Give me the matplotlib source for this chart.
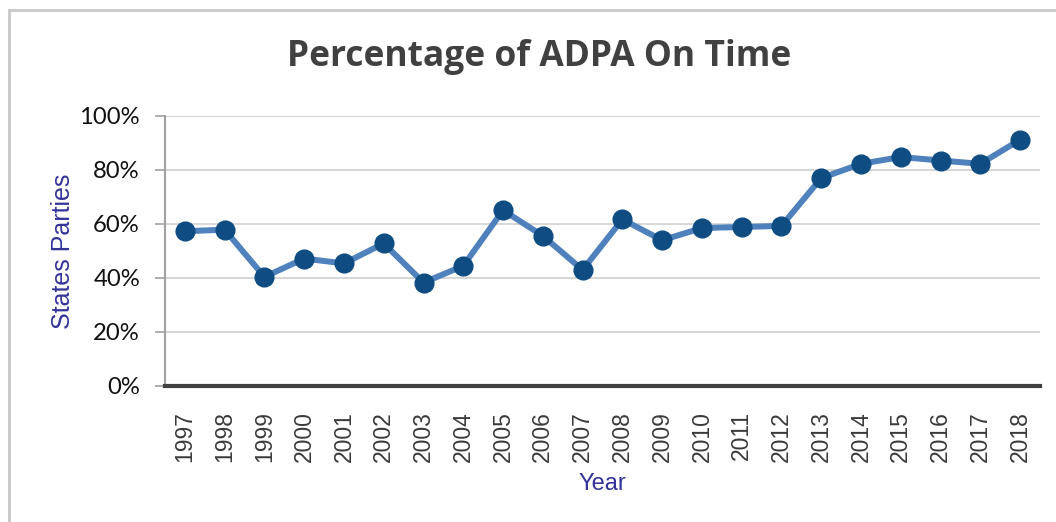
import numpy as np
import matplotlib.pyplot as plt
from matplotlib.lines import Line2D
from matplotlib.ticker import PercentFormatter

# Data
years = ['1997', '1998', '1999', '2000', '2001', '2002', '2003', '2004', '2005', '2006', '2007',
         '2008', '2009', '2010', '2011', '2012', '2013', '2014', '2015', '2016', '2017', '2018']
on_time = [57.3, 57.9, 40.4, 47.2, 45.4, 52.8, 38.3, 44.5, 65.1, 55.6, 43.0,
           61.7, 54.0, 58.5, 58.9, 59.3, 77.0, 82.3, 84.8, 83.5, 82.3, 91.2]

title = 'Percentage of ADPA On Time'
x_label = 'Year'
y_label = 'States Parties'

fig = plt.figure(figsize=(10.56, 5.22), dpi=100)
ax = fig.add_axes([165 / 1056, 1 - 386 / 522, 875 / 1056, 270 / 522])

x = np.arange(len(years))
ax.plot(x, on_time, color='#4F81BD', linewidth=4.3, marker='o', markersize=13.5,
        markerfacecolor='#0F4C81', markeredgecolor='#0F4C81', zorder=3)

ax.set_xlim(-0.5, len(years) - 0.5)
ax.set_ylim(0, 100)
ax.set_yticks(np.arange(0, 101, 20))
ax.yaxis.set_major_formatter(PercentFormatter(decimals=0))
ax.set_xticks(x)
ax.set_xticklabels(years, rotation=90, fontsize=16.5, family='Liberation Sans', color='#3a3a3a')
for lab in ax.get_yticklabels():
    lab.set_family('Lato')
    lab.set_fontsize(17.2)
    lab.set_color('#111111')

ax.grid(axis='y', color='#d0d0d0', linewidth=1.2)
ax.set_axisbelow(True)
for s in ['top', 'right']:
    ax.spines[s].set_visible(False)
ax.spines['left'].set_color('#a0a0a0')
ax.spines['left'].set_linewidth(1.5)
ax.spines['bottom'].set_color('#404040')
ax.spines['bottom'].set_linewidth(3)
ax.tick_params(axis='y', length=7, color='#a0a0a0', width=1.2, pad=11)
ax.tick_params(axis='x', length=0, pad=18)

ax.set_xlabel(x_label, fontsize=17, family='Liberation Sans', color='#333399', labelpad=8)
ax.set_ylabel(y_label, fontsize=18, family='Liberation Sans', color='#333399', labelpad=3)

fig.text(0.511, 1 - 57 / 522, title, ha='center', va='center', fontsize=25.5,
         fontweight='bold', family='Open Sans', color='#404040')

# light frame around chart area (top and left edges visible)
fig.add_artist(Line2D([9 / 1056, 9 / 1056], [0, 1 - 10 / 522], transform=fig.transFigure,
                      color='#c8c8c8', linewidth=2))
fig.add_artist(Line2D([9 / 1056, 1], [1 - 10 / 522, 1 - 10 / 522], transform=fig.transFigure,
                      color='#c8c8c8', linewidth=2))

fig.savefig('out.png', dpi=100)
